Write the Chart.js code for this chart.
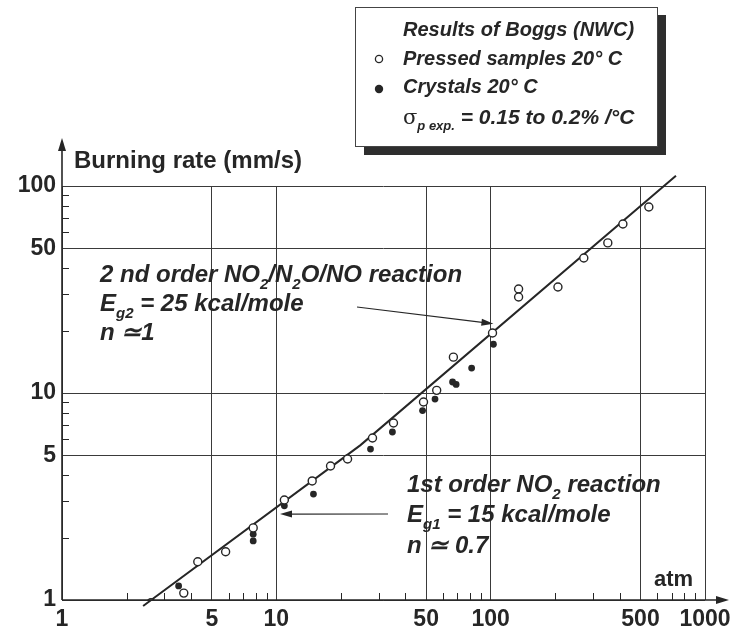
<!DOCTYPE html>
<html>
<head>
<meta charset="utf-8">
<title>Burning rate vs pressure</title>
<script src="https://cdn.jsdelivr.net/npm/chart.js@4.4.1/dist/chart.umd.min.js"></script>
<style>
  html, body { margin: 0; padding: 0; background: #fff; }
  #wrap { width: 730px; height: 632px; }
</style>
</head>
<body>
<div id="wrap"><canvas id="rateChart" width="730" height="632"></canvas></div>
<script>
/* ================= DATA ================= */
const xTicks = [1, 5, 10, 50, 100, 500, 1000];
const yTicks = [1, 5, 10, 50, 100];
const xMinor = [2, 3, 4, 6, 7, 8, 9, 20, 30, 40, 60, 70, 80, 90, 200, 300, 400, 600, 700, 800, 900];
const yMinor = [2, 3, 4, 6, 7, 8, 9, 20, 30, 40, 60, 70, 80, 90];

// pressed samples 20 C (open circles)
const pressedP = [2.6, 3.7, 4.3, 5.8, 7.8, 10.9, 14.7, 17.9, 21.5, 28.1, 35.2, 48.6, 56, 67, 102, 135, 135, 206, 272, 352, 414, 547];
const pressedRate = [0.97, 1.08, 1.53, 1.71, 2.23, 3.04, 3.76, 4.44, 4.8, 6.06, 7.16, 9.05, 10.3, 14.9, 19.5, 31.8, 29.1, 32.5, 44.9, 53.1, 65.5, 79.2];

// crystals 20 C (filled dots)
const crystalP = [3.5, 7.8, 7.8, 10.9, 14.9, 27.5, 34.8, 48.1, 55, 66.4, 69, 81.5, 103];
const crystalRate = [1.17, 2.08, 1.93, 2.85, 3.25, 5.36, 6.48, 8.22, 9.35, 11.3, 11.0, 13.2, 17.2];

// fitted law: 1st order branch, then 2nd order branch
const fitP = [2.39, 24.7, 732];
const fitRate = [0.935, 5.6, 112];

const toXY = (xs, ys) => xs.map((v, i) => ({ x: v, y: ys[i] }));

/* ================= DRAWING HELPERS ================= */
const FONT = "'Liberation Sans', Arial, sans-serif";
const INK = "#262626";

// draws a run of text pieces, some of them as subscripts
function drawRuns(ctx, runs, x, y, size) {
  let cx = x;
  runs.forEach(r => {
    const s = r.sub ? Math.round(size * 0.62) : size;
    const style = r.plain ? "" : "italic bold ";
    ctx.font = style + s + "px " + (r.serif ? "'DejaVu Serif', serif" : FONT);
    ctx.fillText(r.t, cx, r.sub ? y + size * 0.28 : y);
    cx += ctx.measureText(r.t).width;
  });
}

function arrow(ctx, x1, y1, x2, y2, len, half) {
  const ang = Math.atan2(y2 - y1, x2 - x1);
  ctx.beginPath();
  ctx.moveTo(x1, y1);
  ctx.lineTo(x2 - Math.cos(ang) * len * 0.6, y2 - Math.sin(ang) * len * 0.6);
  ctx.stroke();
  ctx.beginPath();
  ctx.moveTo(x2, y2);
  ctx.lineTo(x2 - Math.cos(ang) * len + Math.sin(ang) * half, y2 - Math.sin(ang) * len - Math.cos(ang) * half);
  ctx.lineTo(x2 - Math.cos(ang) * len - Math.sin(ang) * half, y2 - Math.sin(ang) * len + Math.cos(ang) * half);
  ctx.closePath();
  ctx.fill();
}

/* ================= OVERLAY PLUGIN ================= */
const overlay = {
  id: "overlay",
  afterDraw(chart) {
    const { ctx, chartArea: a, scales } = chart;
    const xs = scales.x;
    const ys = scales.y;
    ctx.save();
    ctx.strokeStyle = INK;
    ctx.fillStyle = INK;

    // axes with arrows
    ctx.lineWidth = 1.6;
    arrow(ctx, a.left, a.bottom, a.left, 138, 13, 4);
    arrow(ctx, a.left, a.bottom, 729, a.bottom, 13, 4);

    // minor ticks
    ctx.lineWidth = 1;
    ctx.beginPath();
    xMinor.forEach(v => {
      const px = Math.round(xs.getPixelForValue(v)) + 0.5;
      ctx.moveTo(px, a.bottom);
      ctx.lineTo(px, a.bottom - 7);
    });
    yMinor.forEach(v => {
      const py = Math.round(ys.getPixelForValue(v)) + 0.5;
      ctx.moveTo(a.left, py);
      ctx.lineTo(a.left + 7, py);
    });
    ctx.stroke();

    // axis titles
    ctx.textBaseline = "alphabetic";
    ctx.textAlign = "left";
    ctx.font = "bold 24px " + FONT;
    ctx.fillText("Burning rate (mm/s)", 74, 168);
    ctx.font = "bold 22px " + FONT;
    ctx.fillText("atm", 654, 586);

    // annotation: 2nd order branch
    drawRuns(ctx, [{ t: "2 nd order NO" }, { t: "2", sub: true }, { t: "/N" }, { t: "2", sub: true }, { t: "O/NO reaction" }], 100, 282, 24);
    drawRuns(ctx, [{ t: "E" }, { t: "g2", sub: true }, { t: " = 25 kcal/mole" }], 100, 311, 24);
    drawRuns(ctx, [{ t: "n \u22431" }], 100, 340, 24);
    ctx.lineWidth = 1.2;
    arrow(ctx, 357, 307, xs.getPixelForValue(103), ys.getPixelForValue(21.6), 12, 3.5);

    // annotation: 1st order branch
    drawRuns(ctx, [{ t: "1st order NO" }, { t: "2", sub: true }, { t: " reaction" }], 407, 492, 24);
    drawRuns(ctx, [{ t: "E" }, { t: "g1", sub: true }, { t: " = 15 kcal/mole" }], 407, 522, 24);
    drawRuns(ctx, [{ t: "n \u2243 0.7" }], 407, 553, 24);
    arrow(ctx, 388, 514, xs.getPixelForValue(10.4), ys.getPixelForValue(2.6), 12, 3.5);

    // legend box with shadow
    ctx.fillStyle = "#2e2e2e";
    ctx.fillRect(364, 15, 302, 140);
    ctx.fillStyle = "#fff";
    ctx.fillRect(355, 7, 303, 140);
    ctx.lineWidth = 1;
    ctx.strokeStyle = "#444";
    ctx.strokeRect(355.5, 7.5, 302, 139);

    ctx.fillStyle = INK;
    drawRuns(ctx, [{ t: "Results of Boggs (NWC)" }], 403, 36, 20);
    drawRuns(ctx, [{ t: "Pressed samples 20\u00b0 C" }], 403, 65, 20);
    drawRuns(ctx, [{ t: "Crystals 20\u00b0 C" }], 403, 93, 20);
    drawRuns(ctx, [{ t: "\u03c3", plain: true, serif: true }, { t: "p exp.", sub: true }, { t: " = 0.15 to 0.2% /\u00b0C" }], 403, 124, 21);

    ctx.lineWidth = 1.3;
    ctx.strokeStyle = INK;
    ctx.beginPath();
    ctx.arc(379, 59, 3.6, 0, Math.PI * 2);
    ctx.stroke();
    ctx.beginPath();
    ctx.arc(379, 89, 4.2, 0, Math.PI * 2);
    ctx.fill();

    ctx.restore();
  }
};

/* ================= CHART ================= */
const ctx = document.getElementById("rateChart");

new Chart(ctx, {
  type: "scatter",
  data: {
    datasets: [
      {
        label: "Pressed samples 20\u00b0 C",
        data: toXY(pressedP, pressedRate),
        pointStyle: "circle",
        pointRadius: 4,
        pointBorderWidth: 1.4,
        pointBackgroundColor: "#fff",
        pointBorderColor: INK,
        order: 1
      },
      {
        label: "Crystals 20\u00b0 C",
        data: toXY(crystalP, crystalRate),
        pointRadius: 3.4,
        pointBorderWidth: 0,
        pointBackgroundColor: INK,
        pointBorderColor: INK,
        order: 2
      },
      {
        label: "Fit",
        data: toXY(fitP, fitRate),
        showLine: true,
        pointRadius: 0,
        borderColor: INK,
        borderWidth: 2,
        clip: false,
        order: 3
      }
    ]
  },
  options: {
    responsive: false,
    animation: false,
    events: [],
    layout: { padding: { top: 186, right: 25, left: 0, bottom: 0 } },
    plugins: {
      legend: { display: false },
      tooltip: { enabled: false }
    },
    scales: {
      x: {
        type: "logarithmic",
        min: 1,
        max: 1000,
        afterBuildTicks: scale => { scale.ticks = xTicks.map(v => ({ value: v })); },
        afterFit: scale => {
          scale.height = 32;
          scale.paddingLeft = 0;
          scale.paddingRight = 0;
        },
        border: { display: false },
        grid: { color: "#3a3a3a", lineWidth: 1, drawTicks: false },
        ticks: {
          color: INK,
          padding: 6,
          maxRotation: 0,
          autoSkip: false,
          font: { family: FONT, size: 23, weight: "bold" },
          callback: v => String(v)
        }
      },
      y: {
        type: "logarithmic",
        min: 1,
        max: 100,
        afterBuildTicks: scale => { scale.ticks = yTicks.map(v => ({ value: v })); },
        afterFit: scale => {
          scale.width = 62;
          scale.paddingTop = 0;
          scale.paddingBottom = 0;
        },
        border: { display: false },
        grid: { color: "#3a3a3a", lineWidth: 1, drawTicks: false },
        ticks: {
          color: INK,
          padding: 6,
          autoSkip: false,
          font: { family: FONT, size: 23, weight: "bold" },
          callback: v => String(v)
        }
      }
    }
  },
  plugins: [overlay]
});
</script>
</body>
</html>
